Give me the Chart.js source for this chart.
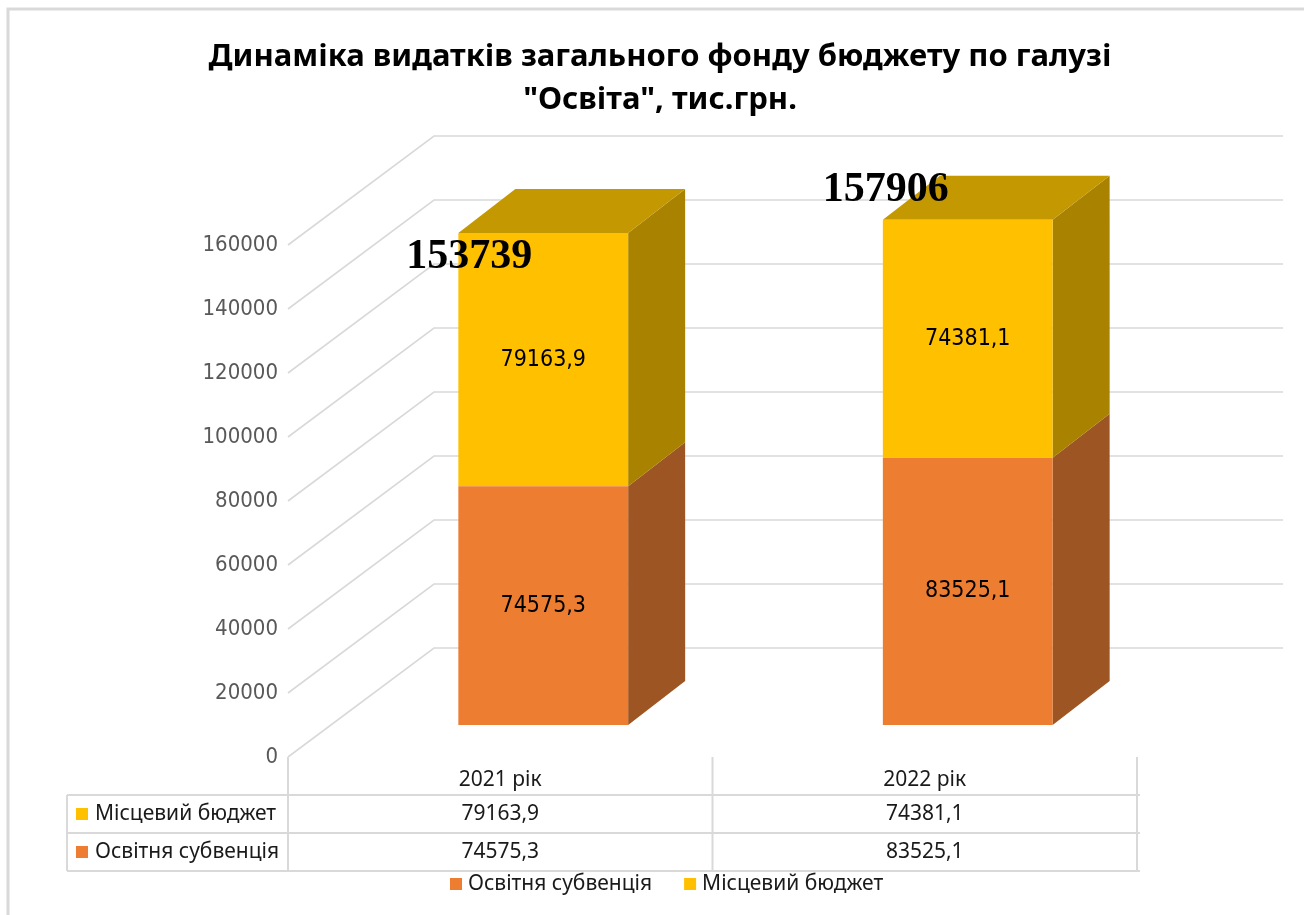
<!DOCTYPE html>
<html>
<head>
<meta charset="utf-8">
<script src="https://cdn.jsdelivr.net/npm/chart.js@4.4.1/dist/chart.umd.min.js"></script>
<style>
  html, body { margin: 0; padding: 0; background: #ffffff; }
  #wrap { width: 1304px; height: 915px; position: relative; }
</style>
</head>
<body>
<div id="wrap"><canvas id="c" width="1304" height="915"></canvas></div>
<script>
// ---- data ----
const categories = ['2021 рік', '2022 рік'];
const seriesSubvention = [74575.3, 83525.1];
const seriesLocal = [79163.9, 74381.1];
const seriesNames = ['Освітня субвенція', 'Місцевий бюджет'];
const yTickValues = [0, 20000, 40000, 60000, 80000, 100000, 120000, 140000, 160000];
const titleLines = ['Динаміка видатків загального фонду бюджету по галузі', '"Освіта", тис.грн.'];

// ---- style ----
const COL_ORANGE = '#ED7D31', COL_ORANGE_SIDE = '#9C5523';
const COL_YELLOW = '#FFC000', COL_YELLOW_SIDE = '#A98200', COL_YELLOW_TOP = '#C49800';
const GRID = '#d9d9d9';
const FRONT = { dx: -43, dy: 32 };   // front plane offset from bar plane
const BACK = { dx: 103, dy: -77 };   // back wall offset from bar plane
const DEPTH = { dx: 57, dy: -44 };   // bar depth
const totalNudge = [{ dx: -74, dy: 24 }, { dx: -82, dy: -30 }];

const fmt = v => v.toFixed(1).replace('.', ',');

const threeD = {
  id: 'threeD',
  beforeDatasetsDraw(chart) {
    const ctx = chart.ctx, ca = chart.chartArea, ys = chart.scales.y;
    ctx.save();
    // frame
    ctx.strokeStyle = '#d9d9d9'; ctx.lineWidth = 3;
    ctx.beginPath(); ctx.moveTo(1304, 9); ctx.lineTo(8, 9); ctx.lineTo(8, 915); ctx.stroke();
    // walls gridlines
    ctx.strokeStyle = GRID; ctx.lineWidth = 1.6;
    const fx = ca.left + FRONT.dx, bx = ca.left + BACK.dx, bxr = ca.right + BACK.dx;
    yTickValues.forEach(v => {
      const y = ys.getPixelForValue(v);
      ctx.beginPath();
      ctx.moveTo(fx, y + FRONT.dy);
      ctx.lineTo(bx, y + BACK.dy);
      ctx.lineTo(bxr, y + BACK.dy);
      ctx.stroke();
    });
    // tick labels
    ctx.fillStyle = '#595959';
    ctx.font = '22px "DejaVu Sans Condensed", "DejaVu Sans", sans-serif';
    ctx.textAlign = 'right'; ctx.textBaseline = 'middle';
    yTickValues.forEach(v => {
      ctx.fillText(String(v), fx - 10, ys.getPixelForValue(v) + FRONT.dy);
    });
    // bar sides and top
    const n = chart.data.datasets.length;
    chart.data.datasets.forEach((ds, di) => {
      const meta = chart.getDatasetMeta(di);
      meta.data.forEach(bar => {
        const p = bar.getProps(['x', 'y', 'base', 'width'], true);
        const l = p.x - p.width / 2, r = p.x + p.width / 2;
        ctx.fillStyle = ds.sideColor;
        ctx.beginPath();
        ctx.moveTo(r, p.y); ctx.lineTo(r + DEPTH.dx, p.y + DEPTH.dy);
        ctx.lineTo(r + DEPTH.dx, p.base + DEPTH.dy); ctx.lineTo(r, p.base);
        ctx.closePath(); ctx.fill();
        if (di === n - 1) {
          ctx.fillStyle = ds.topColor;
          ctx.beginPath();
          ctx.moveTo(l, p.y); ctx.lineTo(l + DEPTH.dx, p.y + DEPTH.dy);
          ctx.lineTo(r + DEPTH.dx, p.y + DEPTH.dy); ctx.lineTo(r, p.y);
          ctx.closePath(); ctx.fill();
        }
      });
    });
    ctx.restore();
  },
  afterDatasetsDraw(chart) {
    const ctx = chart.ctx, ca = chart.chartArea, xs = chart.scales.x, ys = chart.scales.y;
    ctx.save();
    // values inside bars
    ctx.fillStyle = '#000';
    ctx.font = '23px "DejaVu Sans Condensed", "DejaVu Sans", sans-serif';
    ctx.textAlign = 'center'; ctx.textBaseline = 'middle';
    chart.data.datasets.forEach((ds, di) => {
      chart.getDatasetMeta(di).data.forEach((bar, i) => {
        const p = bar.getProps(['x', 'y', 'base'], true);
        ctx.fillText(fmt(ds.data[i]), p.x, (p.y + p.base) / 2);
      });
    });
    // totals
    ctx.font = 'bold 42px "Liberation Serif", "Times New Roman", serif';
    const lastMeta = chart.getDatasetMeta(chart.data.datasets.length - 1);
    categories.forEach((c, i) => {
      const total = seriesSubvention[i] + seriesLocal[i];
      const p = lastMeta.data[i].getProps(['x', 'y'], true);
      ctx.fillText(String(Math.round(total)), p.x + totalNudge[i].dx, p.y + totalNudge[i].dy);
    });
    // data table
    const fx = ca.left + FRONT.dx;
    const y0 = ys.getPixelForValue(0) + FRONT.dy;
    const tLeft = 67, rowH = 38;
    const colEdges = [fx];
    categories.forEach((c, i) => {
      const cx = xs.getPixelForValue(i) + FRONT.dx;
      colEdges.push(2 * cx - colEdges[i]);
    });
    const tRight = colEdges[colEdges.length - 1];
    const r1 = y0 + 38, r2 = r1 + rowH, r3 = r2 + rowH;
    ctx.strokeStyle = GRID; ctx.lineWidth = 2;
    ctx.beginPath();
    colEdges.forEach(x => { ctx.moveTo(x, y0); ctx.lineTo(x, r3); });
    ctx.moveTo(tLeft, r1); ctx.lineTo(tLeft, r3);
    [r1, r2, r3].forEach(y => { ctx.moveTo(tLeft, y); ctx.lineTo(tRight + 3, y); });
    ctx.stroke();
    ctx.font = '21px "Noto Sans", sans-serif';
    ctx.fillStyle = '#1a1a1a';
    ctx.textAlign = 'center'; ctx.textBaseline = 'middle';
    categories.forEach((c, i) => {
      const cx = xs.getPixelForValue(i) + FRONT.dx;
      ctx.fillText(c, cx, (y0 + r1) / 2 + 4);
      ctx.fillText(fmt(seriesLocal[i]), cx, (r1 + r2) / 2);
      ctx.fillText(fmt(seriesSubvention[i]), cx, (r2 + r3) / 2);
    });
    const rows = [[seriesNames[1], COL_YELLOW, (r1 + r2) / 2], [seriesNames[0], COL_ORANGE, (r2 + r3) / 2]];
    ctx.textAlign = 'left';
    rows.forEach(([name, col, y]) => {
      ctx.fillStyle = col; ctx.fillRect(tLeft + 9, y - 6, 12, 12);
      ctx.fillStyle = '#1a1a1a'; ctx.fillText(name, tLeft + 28, y);
    });
    // legend
    let lx = 450; const ly = r3 + 13;
    [[seriesNames[0], COL_ORANGE], [seriesNames[1], COL_YELLOW]].forEach(([name, col]) => {
      ctx.fillStyle = col; ctx.fillRect(lx, ly - 6, 12, 12);
      ctx.fillStyle = '#1a1a1a'; ctx.fillText(name, lx + 18, ly);
      lx += 18 + ctx.measureText(name).width + 32;
    });
    // title
    ctx.fillStyle = '#000';
    ctx.font = 'bold 31px "Noto Sans", sans-serif';
    ctx.textAlign = 'center';
    ctx.fillText(titleLines[0], 660, 57);
    ctx.fillText(titleLines[1], 660, 100);
    ctx.restore();
  }
};

new Chart(document.getElementById('c'), {
  type: 'bar',
  data: {
    labels: categories,
    datasets: [
      { label: seriesNames[0], data: seriesSubvention, backgroundColor: COL_ORANGE, sideColor: COL_ORANGE_SIDE, topColor: COL_ORANGE_SIDE },
      { label: seriesNames[1], data: seriesLocal, backgroundColor: COL_YELLOW, sideColor: COL_YELLOW_SIDE, topColor: COL_YELLOW_TOP }
    ]
  },
  options: {
    responsive: false,
    animation: false,
    layout: { padding: { left: 331, right: 124, top: 213, bottom: 190 } },
    datasets: { bar: { barPercentage: 0.4, categoryPercentage: 1.0, borderWidth: 0 } },
    scales: {
      x: { display: false, stacked: true },
      y: { display: false, stacked: true, min: 0, max: 160000 }
    },
    plugins: { legend: { display: false }, title: { display: false }, tooltip: { enabled: false } }
  },
  plugins: [threeD]
});
</script>
</body>
</html>
